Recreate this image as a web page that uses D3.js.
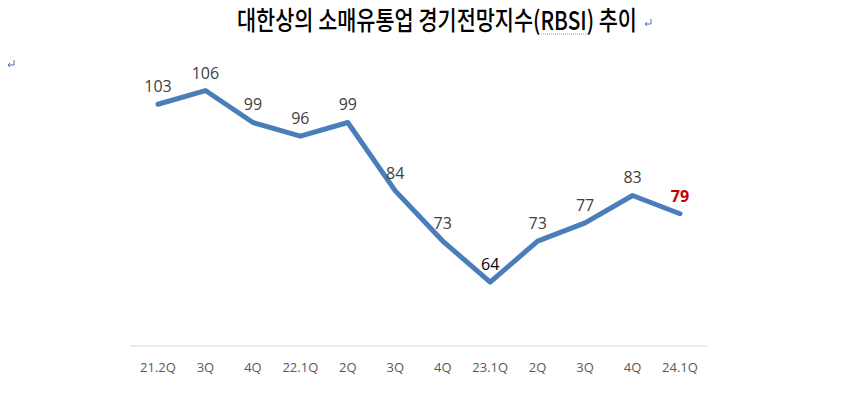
<!DOCTYPE html>
<html>
<head>
<meta charset="utf-8">
<script src="https://cdn.jsdelivr.net/npm/d3@7"></script>
<style>
  body { margin: 0; background: #fff; }
  svg { display: block; }
</style>
</head>
<body>
<div id="chart"></div>
<script>
// quarters on the x axis
var quarters = ["21.2Q", "3Q", "4Q", "22.1Q", "2Q", "3Q", "4Q", "23.1Q", "2Q", "3Q", "4Q", "24.1Q"];
// RBSI values
var rbsi = [103, 106, 99, 96, 99, 84, 73, 64, 73, 77, 83, 79];
var titleText = "대한상의 소매유통업 경기전망지수(RBSI) 추이";

var width = 863, height = 399;

var svg = d3.select("#chart").append("svg")
    .attr("width", width)
    .attr("height", height);

// title (condensed to the original width)
svg.append("text")
    .attr("x", 237)
    .attr("y", 30)
    .attr("textLength", 400)
    .attr("lengthAdjust", "spacingAndGlyphs")
    .style("font-family", "'Noto Sans CJK KR', sans-serif")
    .style("font-size", "26px")
    .style("font-weight", 500)
    .style("fill", "#000")
    .text(titleText);

// dotted spell-check underline under (RBSI)
svg.append("line")
    .attr("x1", 541).attr("x2", 589)
    .attr("y1", 34).attr("y2", 34)
    .style("stroke", "#d4a017")
    .style("stroke-width", 1)
    .style("stroke-dasharray", "1,1");

// paragraph marks
function returnMark(x, y) {
    var g = svg.append("g").attr("transform", "translate(" + x + "," + y + ")");
    g.append("path")
        .attr("d", "M7,0 V5 H1 M3,3 L1,5 L3,7")
        .style("fill", "none")
        .style("stroke", "#4a6fb0")
        .style("stroke-width", 1);
}
returnMark(644, 19);
returnMark(7, 60);

var x = d3.scalePoint()
    .domain(d3.range(quarters.length))
    .range([158, 680]);

var y = d3.scaleLinear()
    .domain([50, 110])
    .range([346, 72.3]);

// baseline
svg.append("line")
    .attr("x1", 130).attr("x2", 708)
    .attr("y1", y(50)).attr("y2", y(50))
    .style("stroke", "#d9d9d9")
    .style("stroke-width", 1);

// x axis labels
svg.append("g").selectAll("text")
    .data(quarters)
  .enter().append("text")
    .attr("x", function(d, i) { return x(i); })
    .attr("y", 372)
    .attr("text-anchor", "middle")
    .style("font-family", "'Open Sans', 'Noto Sans', sans-serif")
    .style("font-size", "13px")
    .style("fill", "#595959")
    .text(function(d) { return d; });

// line
var line = d3.line()
    .x(function(d, i) { return x(i); })
    .y(function(d) { return y(d); });

svg.append("path")
    .datum(rbsi)
    .attr("d", line)
    .style("fill", "none")
    .style("stroke", "#4a7ebb")
    .style("stroke-width", 5)
    .style("stroke-linejoin", "round")
    .style("stroke-linecap", "round");

// data labels
var last = rbsi.length - 1;
svg.append("g").selectAll("text")
    .data(rbsi)
  .enter().append("text")
    .attr("x", function(d, i) { return x(i); })
    .attr("y", function(d) { return y(d) - 12; })
    .attr("text-anchor", "middle")
    .style("font-family", "'Open Sans', 'Noto Sans', sans-serif")
    .style("font-size", "16px")
    .style("font-weight", function(d, i) { return i === last ? "bold" : "normal"; })
    .style("fill", function(d, i) {
        if (i === last) return "#c00000";
        if (i === 7) return "#000";
        return "#404040";
    })
    .text(function(d) { return d; });
</script>
</body>
</html>
